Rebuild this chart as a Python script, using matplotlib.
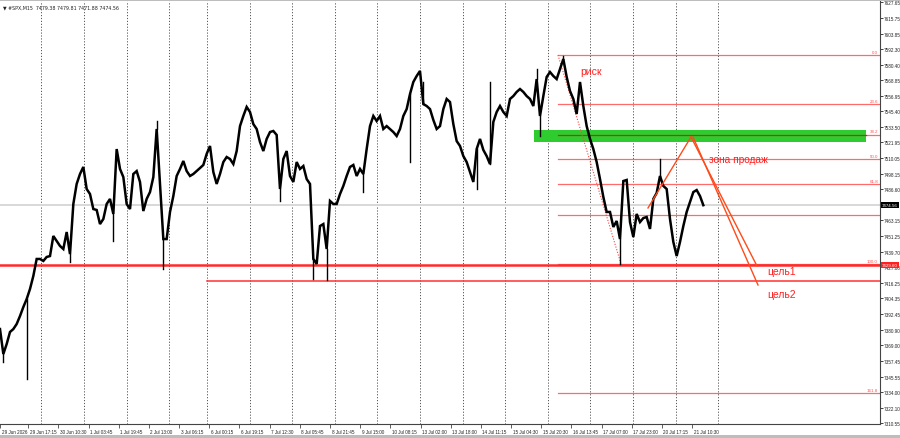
import numpy as np
import matplotlib
matplotlib.use("Agg")
import matplotlib.pyplot as plt
from matplotlib.patches import Rectangle

plt.rcParams['font.family'] = ['Liberation Sans', 'DejaVu Sans']

# ---------------- data ----------------
header = "#SPX,M15  7479.38 7479.81 7471.88 7474.56"

# close path, sampled every ~7.5 M15 bars
closes = [
    7381.3, 7362.5, 7370.0, 7379.1, 7381.3, 7385.1, 7391.1, 7397.9, 7403.9, 7411.5,
    7421.3, 7434.1, 7434.1, 7432.6, 7435.6, 7436.3, 7451.4, 7447.6, 7443.9, 7441.6,
    7454.4, 7437.8, 7475.5, 7490.6, 7498.1, 7503.4, 7486.8, 7483.0, 7471.7, 7471.0,
    7460.4, 7464.2, 7475.5, 7479.3, 7468.0, 7516.9, 7501.9, 7495.8, 7475.5, 7471.7,
    7498.1, 7500.3, 7492.1, 7470.2, 7479.3, 7484.5, 7495.8, 7532.0, 7490.6, 7449.1,
    7449.1, 7469.5, 7481.5, 7496.6, 7501.9, 7507.9, 7500.3, 7496.6, 7498.1, 7500.3,
    7502.6, 7504.9, 7513.2, 7519.2, 7499.6, 7490.6, 7498.1, 7507.1, 7510.9, 7509.4,
    7505.6, 7515.4, 7534.2, 7541.8, 7548.6, 7544.8, 7535.7, 7532.0, 7522.2, 7515.4,
    7524.5, 7529.7, 7530.5, 7527.5, 7486.8, 7509.4, 7515.4, 7496.6, 7492.1, 7507.1,
    7501.9, 7504.1, 7494.3, 7490.6, 7434.1, 7430.3, 7458.9, 7460.4, 7441.6, 7477.8,
    7475.5, 7475.5, 7483.0, 7489.1, 7496.6, 7503.4, 7504.9, 7496.6, 7501.9, 7498.1,
    7516.9, 7534.2, 7541.8, 7538.0, 7541.8, 7532.0, 7534.2, 7532.0, 7529.7, 7526.7,
    7532.0, 7541.8, 7547.0, 7558.3, 7567.4, 7571.9, 7575.7, 7550.8, 7549.3, 7547.0,
    7538.8, 7532.0, 7534.2, 7547.0, 7554.6, 7552.3, 7535.7, 7522.9, 7519.2, 7511.6,
    7507.1, 7499.6, 7492.1, 7516.9, 7524.5, 7516.2, 7511.6, 7505.6, 7537.3, 7544.8,
    7549.3, 7544.8, 7541.8, 7554.6, 7556.8, 7559.9, 7562.1, 7559.9, 7556.8, 7554.6,
    7549.3, 7569.6, 7541.8, 7556.8, 7571.2, 7574.9, 7571.9, 7569.6, 7577.2, 7584.7,
    7571.2, 7560.6, 7554.6, 7543.3, 7567.4, 7549.3, 7534.2, 7524.5, 7516.9, 7507.1,
    7494.3, 7480.8, 7469.5, 7469.5, 7458.2, 7462.7, 7449.1, 7492.8, 7493.6, 7461.9,
    7450.6, 7468.0, 7461.9, 7464.9, 7465.7, 7456.7, 7479.3, 7483.8, 7496.6, 7489.1,
    7486.8, 7464.2, 7446.9, 7436.3, 7446.9, 7458.9, 7469.5, 7477.0, 7484.5, 7486.0,
    7481.5, 7474.6,
]
# long candle wicks: sample index and extreme price
wick_idx = [1, 8, 21, 34, 47, 49, 84, 94, 98, 109, 123, 127, 143, 147, 161, 162, 169, 186, 198]
wick_px = [7356.5, 7343.7, 7431.8, 7447.6, 7538.0, 7426.5, 7477.8, 7419.0, 7418.3, 7484.5,
           7507.1, 7567.4, 7486.8, 7567.4, 7577.2, 7526.7, 7587.0, 7430.3, 7509.4]

last_price = 7474.56
support_price = 7429.60
support2_price = 7417.5
fib_top = 7587.7
fib_bottom = 7430.4
fib_levels = [0.0, 23.6, 38.2, 50.0, 61.8, 76.4, 100.0, 161.8]
fib_labeled = ["0.0", "23.6", "38.2", "50.0", "61.8", "", "100.0", "161.8"]
zone_low, zone_high = 7522.2, 7531.2

ytick_vals = [7627.65, 7615.75, 7603.85, 7592.30, 7580.40, 7568.85, 7556.95, 7545.40,
              7533.50, 7521.95, 7510.05, 7498.15, 7486.60, 7463.15, 7451.25, 7439.70,
              7427.80, 7416.25, 7404.35, 7392.45, 7380.90, 7369.00, 7357.45, 7345.55,
              7334.00, 7322.10, 7310.55]
xtick_labels = ["29 Jun 2026", "29 Jun 17:15", "30 Jun 10:30", "1 Jul 03:45", "1 Jul 19:45",
                "2 Jul 13:00", "3 Jul 06:15", "6 Jul 00:15", "6 Jul 19:15", "7 Jul 12:30",
                "8 Jul 05:45", "8 Jul 21:45", "9 Jul 15:00", "10 Jul 08:15", "13 Jul 02:00",
                "13 Jul 18:00", "14 Jul 11:15", "15 Jul 04:30", "15 Jul 20:30", "16 Jul 13:45",
                "17 Jul 07:00", "17 Jul 23:00", "20 Jul 17:15", "21 Jul 10:30"]

# ---------------- layout ----------------
W, H = 900, 439
fig = plt.figure(figsize=(W / 100, H / 100), dpi=100)
fig.patch.set_facecolor("white")
ax = fig.add_axes([0, 14 / H, 880 / W, 423 / H])
ax.set_xlim(0, 880)
ax.set_ylim(7309.8, 7628.4)

step = 10 / 3.0
xs = np.arange(len(closes)) * step

# period separators (day boundaries)
seps = list(41 + 42.8 * np.arange(4)) + list(207 + 42.6 * np.arange(13))
for s in seps:
    ax.axvline(s, color="#555555", lw=0.7, ls=(0, (1.2, 1.8)), zorder=1)

# current price line
ax.axhline(last_price, color="#d8d8d8", lw=1.4, zorder=1)

# fib levels
for lv, lab in zip(fib_levels, fib_labeled):
    p = fib_top - (fib_top - fib_bottom) * lv / 100.0
    ax.plot([558, 880], [p, p], color="#ff6a6a", lw=0.9, zorder=2)
    if lab:
        ax.text(878, p + 1.0, lab, color="#ff5050", fontsize=3.2, ha="right", va="bottom", zorder=6)

# sell zone
ax.add_patch(Rectangle((534, zone_low), 866 - 534, zone_high - zone_low,
                       facecolor="#2ecc2e", edgecolor="none", zorder=3))
p382 = fib_top - (fib_top - fib_bottom) * 0.382
ax.plot([558, 866], [p382, p382], color="#d42020", lw=0.9, zorder=4)

# horizontal levels
ax.axhline(support_price, color="#ff2a2a", lw=1.8, zorder=4)
ax.plot([207, 880], [support2_price, support2_price], color="#ff3030", lw=1.1, zorder=4)

# fib diagonal
ax.plot([558, 621], [fib_top, fib_bottom], color="#ff4040", lw=0.8, ls=(0, (1, 1.5)), zorder=4)

# price
ax.plot(xs, closes, color="black", lw=1.8, zorder=5, solid_joinstyle="miter")
for i, p in zip(wick_idx, wick_px):
    ax.plot([xs[i], xs[i]], [closes[i], p], color="black", lw=1.0, zorder=5)

# forecast lines
oc = "#ff4a1a"
ax.plot([648, 691], [7472.5, 7526.0], color=oc, lw=1.0, zorder=6)
ax.plot([691, 757], [7526.0, 7428.8], color=oc, lw=1.0, zorder=6)
ax.plot([693, 758], [7526.0, 7414.5], color=oc, lw=1.0, zorder=6)

# annotations
tc = "#ff2020"
ax.text(580, 7575.5, "риск", color=tc, fontsize=7.5, ha="left", va="center", zorder=7)
ax.text(709, 7509.5, "зона продаж", color=tc, fontsize=7.3, ha="left", va="center", zorder=7)
ax.text(767, 7425.0, "цель1", color=tc, fontsize=7.5, ha="left", va="center", zorder=7)
ax.text(767, 7407.5, "цель2", color=tc, fontsize=7.5, ha="left", va="center", zorder=7)

# axes styling
for side in ["left", "top"]:
    ax.spines[side].set_visible(False)
for side in ["right", "bottom"]:
    ax.spines[side].set_color("#444444")
    ax.spines[side].set_linewidth(0.8)

ax.yaxis.tick_right()
ax.set_yticks(ytick_vals)
ax.set_yticklabels([f"{v:.2f}" for v in ytick_vals])
ax.tick_params(axis="y", length=2, width=0.6, labelsize=3.3, pad=1.0, colors="#222222")

xt = [0] + list(28.2 + 30.18 * np.arange(len(xtick_labels) - 1))
ax.set_xticks(xt)
ax.set_xticklabels([])
ax.tick_params(axis="x", length=3, width=0.6, direction="out", colors="#444444")
for x, lab in zip(xt, xtick_labels):
    ax.text(x + 1.5, -0.012, lab, transform=ax.get_xaxis_transform(), fontsize=3.3,
            ha="left", va="top", color="#222222", clip_on=False)

# price tags on axis
def tag(price, text, fc):
    ax.text(1.002, price, text, transform=ax.get_yaxis_transform(), fontsize=3.2,
            color="white", ha="left", va="center", clip_on=False, zorder=10,
            bbox=dict(boxstyle="square,pad=0.2", fc=fc, ec="none"))

tag(last_price, f"{last_price:.2f}", "black")
tag(support_price, f"{support_price:.2f}", "#ff2020")

# header
ax.text(0.003, 0.992, "▼ " + header, transform=ax.transAxes, fontsize=3.4, ha="left",
        va="top", color="#222222", family=["DejaVu Sans"])

# window frame strips
fig.add_artist(Rectangle((0, 1 - 2 / H), 1, 2 / H, transform=fig.transFigure,
                         fc="#bdbdbd", ec="none"))
fig.add_artist(Rectangle((0, 0), 1, 3 / H, transform=fig.transFigure,
                         fc="#bdbdbd", ec="none"))

fig.savefig("out.png", dpi=100)
